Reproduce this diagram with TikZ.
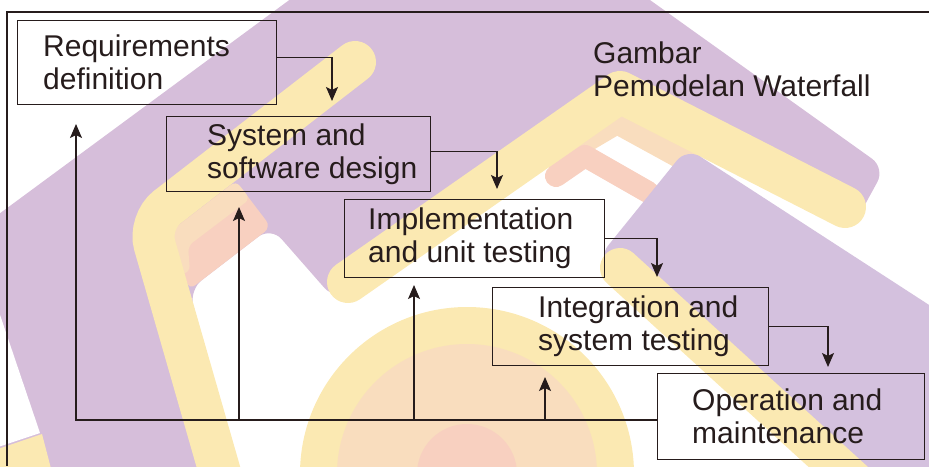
\documentclass[tikz,border=0pt]{standalone}
\usepackage{fontspec}
\setmainfont{Liberation Sans}
\usetikzlibrary{arrows.meta,positioning}

\definecolor{ink}{RGB}{38,28,28}
\definecolor{lilac}{RGB}{214,190,218}
\definecolor{lilacpale}{RGB}{212,193,222}
\definecolor{sunyellow}{RGB}{251,233,178}
\definecolor{peach}{RGB}{249,221,190}
\definecolor{salmon}{RGB}{248,208,192}

\begin{document}
\begin{tikzpicture}[x=1pt,y=-1pt]
		\tikzset{stage/.style = {draw=ink, line width=1.2pt, rectangle, anchor=north west, inner sep=0pt}}
		\tikzset{caption/.style = {align=left, inner sep=0pt, text=ink, font=\fontsize{30}{33}\selectfont}}
		\tikzset{wire/.style = {draw=ink, line width=1.2pt}}
		\tikzset{flow/.style = {wire, -{Stealth[length=14pt,width=12pt,inset=3pt]}}}
		
		\useasboundingbox (0,0) rectangle (929,466);
		
		% logo in the background
		\begin{scope}
		\clip (0,0) rectangle (929,466);
		\fill[lilac, rounded corners=16pt] (-20,228) -- (330,-30) -- (608,-30) -- (885,168) -- (850,232) -- (620,100) -- (335,300) -- (271,227) -- (189,290) -- (245,490) -- (-20,490) -- cycle;
		\fill[white] (-5,300) -- (40,433) -- (-5,448) -- cycle;
		\fill[sunyellow] (-5,450) -- (42,434) -- (54,480) -- (-5,480) -- cycle;
		\fill[salmon, rounded corners=8pt] (172,230) -- (236,181) -- (271,227) -- (189,290) -- cycle;
		\fill[peach, rounded corners=6pt] (170,232) -- (236,181) -- (250,199) -- (188,246) -- (190,272) -- (178,275) -- cycle;
		\draw[sunyellow, line width=42pt, line cap=round, rounded corners=24pt] (355,62) -- (148,222) -- (225,490);
		\draw[peach, line width=24pt, line cap=round, line join=round] (556,158) -- (617,122) -- (690,162);
		\draw[salmon, line width=22pt, line cap=round, line join=round] (556,176) -- (585,156) -- (648,192);
		\draw[sunyellow, line width=42pt, line cap=round, line join=round] (348,282) -- (620,92) -- (845,207);
		\fill[lilacpale, rounded corners=16pt] (687,148) -- (960,325) -- (960,490) -- (860,490) -- (598,258) -- cycle;
		\draw[sunyellow, line width=40pt, line cap=round] (620,268) -- (880,505);
		\fill[sunyellow] (467,474) circle[radius=167pt];
		\fill[peach] (467,474) circle[radius=130pt];
		\fill[salmon] (467,474) circle[radius=50pt];
		\end{scope}
		
		% frame
		\draw[wire] (929,12) -- (7,12) -- (7,466);
		
		% stages
		\node[stage, minimum width=259pt, minimum height=84pt] (req) at ( 17, 20) {};
		\node[stage, minimum width=264pt, minimum height=75pt] (sys) at (166,116) {};
		\node[stage, minimum width=260pt, minimum height=78pt] (impl) at (344,199) {};
		\node[stage, minimum width=276pt, minimum height=78pt] (integ) at (492,287) {};
		\node[stage, minimum width=267pt, minimum height=86pt] (op) at (657,373) {};
		
		\node[caption, right=26pt of req.west] (reqtext) {Requirements\\definition};
		\node[caption, right=41pt of sys.west] (systext) {System and\\software design};
		\node[caption, right=24pt of impl.west] (impltext) {Implementation\\and unit testing};
		\node[caption, right=46pt of integ.west] (integtext) {Integration and\\system testing};
		\node[caption, right=35pt of op.west] (optext) {Operation and\\maintenance};
		
		\node[caption, anchor=north west] (title) at (593,42) {Gambar\\Pemodelan Waterfall};
		
		% going down
		\coordinate (t1) at (332,101);
		\coordinate (t2) at (497,189);
		\coordinate (t3) at (657,277);
		\coordinate (t4) at (828,367);
		\draw[flow] ([yshift=5pt]req.east) -| (t1);
		\draw[flow] ([yshift=3pt]sys.east) -| (t2);
		\draw[flow] (impl.east) -| (t3);
		\draw[flow] (integ.east) -| (t4);
		
		% going back up
		\coordinate (b1) at ( 76,420);
		\coordinate (b2) at (239,420);
		\coordinate (b3) at (414,420);
		\coordinate (b4) at (545,420);
		\coordinate (r1) at ( 76,124);
		\coordinate (r2) at (239,207);
		\coordinate (r3) at (414,285);
		\coordinate (r4) at (545,377);
		\draw[flow] (op.west |- b1) -- (b1) -- (r1);
		\draw[flow] (b2) -- (r2);
		\draw[flow] (b3) -- (r3);
		\draw[flow] (b4) -- (r4);
\end{tikzpicture}
\end{document}
